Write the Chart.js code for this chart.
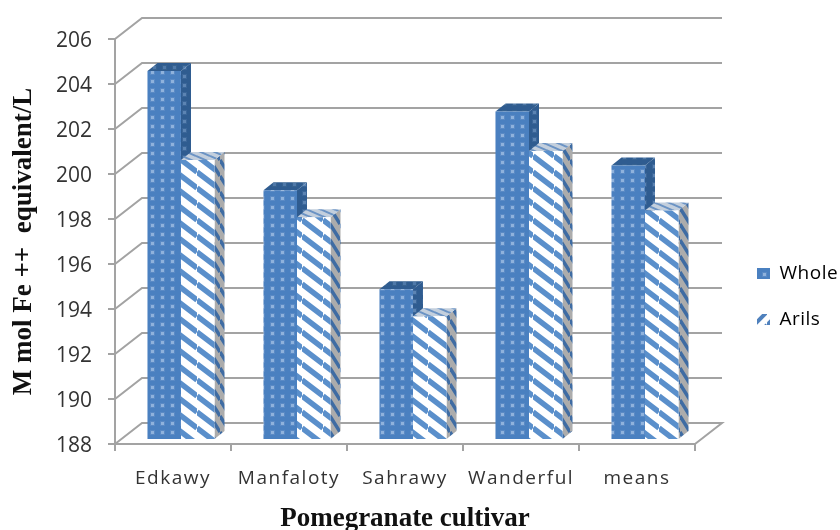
<!DOCTYPE html>
<html>
<head>
<meta charset="utf-8">
<style>html,body{margin:0;padding:0;background:#fff}canvas{display:block}</style>
<script src="https://cdn.jsdelivr.net/npm/chart.js@4"></script>
</head>
<body>
<canvas id="c" width="840" height="530"></canvas>
<script>
const categories = ['Edkawy', 'Manfaloty', 'Sahrawy', 'Wanderful', 'means'];
const wholeValues = [204.4, 199.1, 194.7, 202.6, 200.2];
const arilsValues = [200.45, 197.9, 193.5, 200.85, 198.2];
const axisMin = 188, axisMax = 206, axisStep = 2;
const xTitle = 'Pomegranate cultivar';
const yTitle = 'M mol Fe ++  equivalent/L';

// Perspective of the 3D frame and of the columns inside it
const WALL = {dx: 27, dy: -21};
const COLUMN_SHIFT = {dx: 8, dy: -4};
const COLUMN_DEPTH = {dx: 10, dy: -8};
const GRID = '#a3a3a3';

function tile(w, h, paint) {
  const t = document.createElement('canvas');
  t.width = w; t.height = h;
  const g = t.getContext('2d');
  paint(g, w, h);
  return g.createPattern(t, 'repeat');
}
function dotted(base, halo, dot) {
  return tile(10, 9, (g, w, h) => {
    g.fillStyle = base; g.fillRect(0, 0, w, h);
    g.fillStyle = halo; g.fillRect(2, 2, 5, 5);
    g.fillStyle = dot; g.fillRect(3, 3, 3, 3);
  });
}
function hatched(base, stripe, w, h, lw, rising) {
  return tile(w, h, g => {
    g.fillStyle = base; g.fillRect(0, 0, w, h);
    g.strokeStyle = stripe; g.lineWidth = lw;
    for (let k = -1; k <= 1; k++) {
      g.beginPath();
      if (rising) { g.moveTo(0, h + k * h); g.lineTo(w, k * h); }
      else { g.moveTo(0, k * h); g.lineTo(w, h + k * h); }
      g.stroke();
    }
  });
}
const wholeFront = dotted('#4a80c0', '#5a8ac5', '#8fb2dc');
const wholeSide = dotted('#2f5c90', '#3b6699', '#5c84b3');
const wholeTop = dotted('#2f5c90', '#37628f', '#4f79aa');
const arilsFront = hatched('#ffffff', '#5a8fcb', 21, 16, 5.5, false);
const arilsSide = hatched('#acacac', '#3f6ca3', 10, 16, 3.5, false);
const arilsTop = hatched('#c3cfdd', '#6b93c4', 14, 6, 2, false);
const arilsKey = hatched('#ffffff', '#4f81bd', 13, 13, 4, true);

function polygon(ctx, pts, fill) {
  ctx.beginPath();
  pts.forEach((p, i) => i ? ctx.lineTo(p[0], p[1]) : ctx.moveTo(p[0], p[1]));
  ctx.closePath();
  ctx.fillStyle = fill;
  ctx.fill();
}

// Back wall, left wall and floor edges, taken from the value scale
const frame3d = {
  id: 'frame3d',
  beforeDatasetsDraw(chart) {
    const {ctx, scales: {x, y}} = chart;
    ctx.save();
    ctx.strokeStyle = GRID;
    ctx.lineWidth = 2;
    y.ticks.forEach((t, i) => {
      const py = y.getPixelForTick(i);
      ctx.beginPath();
      ctx.moveTo(x.left, py);
      ctx.lineTo(x.left + WALL.dx, py + WALL.dy);
      ctx.lineTo(x.right + WALL.dx, py + WALL.dy);
      if (i === 0) ctx.lineTo(x.right, py);
      ctx.stroke();
    });
    ctx.restore();
  }
};

// Sides and tops of the columns; the fronts are the chart's own bars
const columns3d = {
  id: 'columns3d',
  beforeDatasetsDraw(chart) {
    const {ctx} = chart;
    const looks = [[wholeSide, wholeTop], [arilsSide, arilsTop]];
    looks.forEach(([side, top], ds) => {
      chart.getDatasetMeta(ds).data.forEach(bar => {
        const l = bar.x - bar.width / 2 + COLUMN_SHIFT.dx;
        const r = bar.x + bar.width / 2 + COLUMN_SHIFT.dx;
        const t = bar.y + COLUMN_SHIFT.dy;
        const b = bar.base + COLUMN_SHIFT.dy;
        const d = COLUMN_DEPTH;
        polygon(ctx, [[r, t], [r + d.dx, t + d.dy], [r + d.dx, b + d.dy], [r, b]], side);
        polygon(ctx, [[l, t], [l + d.dx, t + d.dy], [r + d.dx, t + d.dy], [r, t]], top);
      });
    });
  },
  beforeDatasetDraw(chart) {
    chart.ctx.save();
    chart.ctx.translate(COLUMN_SHIFT.dx, COLUMN_SHIFT.dy);
  },
  afterDatasetDraw(chart) {
    chart.ctx.restore();
  }
};

// Category labels and legend are slightly tracked; applied around each drawing step
function tracked(owner, method, spacing) {
  const original = owner[method];
  owner[method] = function (...args) {
    const ctx = this.ctx;
    ctx.letterSpacing = spacing;
    original.apply(this, args);
    ctx.letterSpacing = '0px';
  };
}
const textAndLegend = {
  id: 'textAndLegend',
  afterLayout(chart) {
    const lg = chart.legend;
    lg.left = 730; lg.right = 840; lg.top = 237; lg.bottom = 400;
    lg.width = 110; lg.height = 163;
    if (!chart._tracked) {
      chart._tracked = true;
      tracked(chart.scales.x, 'drawLabels', '1.5px');
      tracked(lg, 'draw', '0.5px');
    }
  }
};

new Chart(document.getElementById('c'), {
  type: 'bar',
  data: {
    labels: categories,
    datasets: [
      {label: 'Whole', data: wholeValues, base: axisMin, backgroundColor: wholeFront, borderWidth: 0, clip: false},
      {label: 'Arils', data: arilsValues, base: axisMin, backgroundColor: arilsFront, borderWidth: 0, clip: false}
    ]
  },
  plugins: [frame3d, columns3d, textAndLegend],
  options: {
    responsive: false,
    animation: false,
    layout: {padding: {left: 0, right: 145, top: 39, bottom: 0}},
    categoryPercentage: 0.578,
    barPercentage: 1,
    plugins: {
      tooltip: {enabled: false},
      legend: {
        position: 'chartArea',
        align: 'start',
        labels: {
          boxWidth: 13, boxHeight: 11, padding: 27, color: '#333',
          font: {family: 'Open Sans', size: 19},
          generateLabels: () => [
            {text: 'Whole', fillStyle: wholeFront, lineWidth: 0, strokeStyle: 'transparent', datasetIndex: 0},
            {text: 'Arils', fillStyle: arilsKey, lineWidth: 0, strokeStyle: 'transparent', datasetIndex: 1}
          ]
        }
      }
    },
    scales: {
      x: {
        afterFit: s => { s.height = 86; },
        grid: {drawOnChartArea: false, drawTicks: true, tickLength: 7, color: GRID, lineWidth: 2},
        border: {display: true, color: GRID, width: 2},
        ticks: {color: '#333', padding: 16, maxRotation: 0, font: {family: 'Open Sans', size: 19}},
        title: {display: true, text: xTitle, color: '#111', padding: {top: 0, bottom: -5},
                font: {family: 'Liberation Serif', size: 27, weight: 'bold'}}
      },
      y: {
        min: axisMin, max: axisMax,
        afterFit: s => { s.width = 115; },
        grid: {drawOnChartArea: false, drawTicks: true, tickLength: 7, color: GRID, lineWidth: 2},
        border: {display: true, color: GRID, width: 2},
        ticks: {stepSize: axisStep, color: '#333', padding: 16, labelOffset: 2, font: {family: 'Open Sans', size: 21}},
        title: {display: true, text: yTitle, color: '#111', padding: 8,
                font: {family: 'Liberation Serif', size: 27, weight: 'bold'}}
      }
    }
  }
});
</script>
</body>
</html>
